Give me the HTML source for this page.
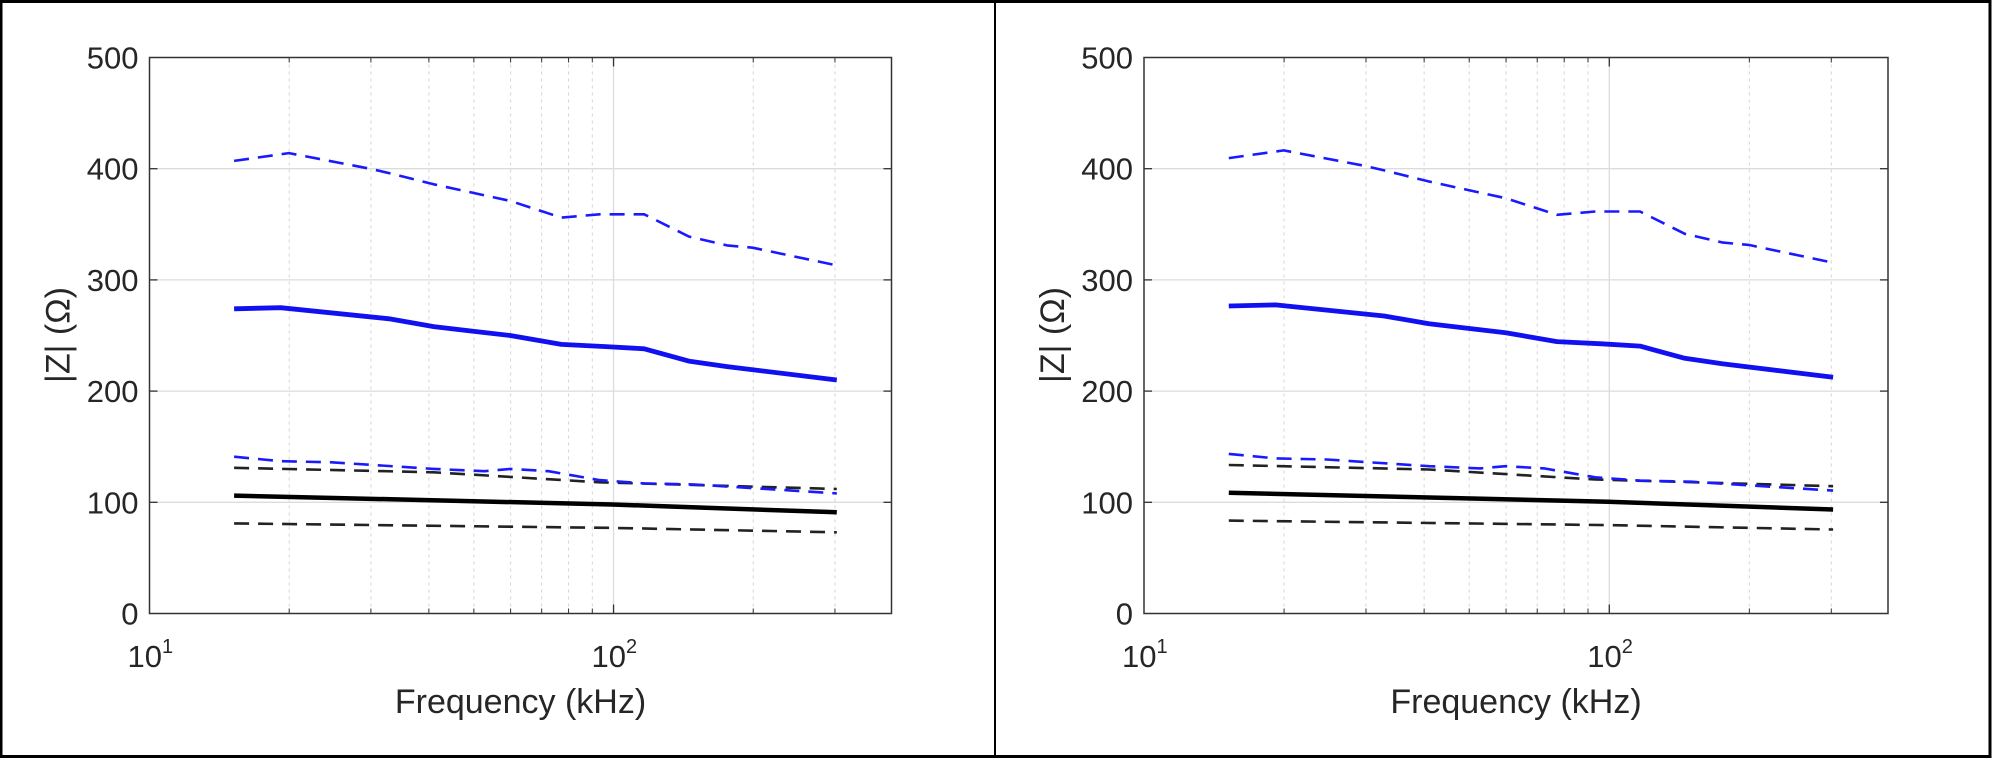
<!DOCTYPE html>
<html><head><meta charset="utf-8"><style>
html,body{margin:0;padding:0;background:#fff;}
svg{display:block;}
text{font-family:"Liberation Sans",Arial,sans-serif;fill:#262626;}
</style></head><body>
<svg id="s" width="1992" height="758" xmlns="http://www.w3.org/2000/svg"></svg>
<script>
const s=document.getElementById('s');
let h='<rect x="0" y="0" width="1992" height="758" fill="#fff"/>';
h+='<rect x="1" y="1.5" width="1989" height="755" fill="none" stroke="#000" stroke-width="3"/>';
h+='<line x1="995" y1="0" x2="995" y2="758" stroke="#000" stroke-width="2"/>';
const Z=1000/1568;
const series=[
 {c:'#1a1aff',w:2.6,d:'15 9',p:[[367,407],[453,414],[580,400],[610,396],[680,386],[800,371],[880,356],[940,359],[1010,359],[1080,339],[1140,331],[1180,329],[1312,313]]},
 {c:'#1010f0',w:4.8,d:'',p:[[367,274],[440,275],[610,265],[680,258],[740,254],[800,250],[880,242],[950,240],[1010,238],[1080,227],[1140,222],[1312,210]]},
 {c:'#222',w:2.6,d:'15 9',p:[[367,131],[680,127],[940,118],[1312,112]]},
 {c:'#1a1aff',w:2.6,d:'15 9',p:[[367,141],[440,137],[520,136],[680,130],[760,128],[800,130],[860,128],[940,120],[1010,117],[1090,116],[1312,108]]},
 {c:'#000',w:4.5,d:'',p:[[367,106],[960,98],[1312,91]]},
 {c:'#222',w:2.6,d:'15 9',p:[[367,81],[960,77],[1312,73]]}
];
function panel(L,R,dy){
 const T=57.5,B=613.5,dec=(R-L)/1.599;
 const X=f=>L+dec*(Math.log10(f)-1), Y=v=>B-(v/500)*(B-T);
 let g='';
 [20,30,40,50,60,70,80,90,200,300].forEach(f=>{const x=X(f);g+=`<line x1="${x}" y1="${T}" x2="${x}" y2="${B}" stroke="#d4d4d4" stroke-width="1" stroke-dasharray="3 4"/>`;
  g+=`<line x1="${x}" y1="${B}" x2="${x}" y2="${B-5}" stroke="#333" stroke-width="1"/><line x1="${x}" y1="${T}" x2="${x}" y2="${T+5}" stroke="#333" stroke-width="1"/>`;});
 const x100=X(100);
 g+=`<line x1="${x100}" y1="${T}" x2="${x100}" y2="${B}" stroke="#dcdcdc" stroke-width="1.3"/>`;
 g+=`<line x1="${x100}" y1="${B}" x2="${x100}" y2="${B-9}" stroke="#333" stroke-width="1.3"/><line x1="${x100}" y1="${T}" x2="${x100}" y2="${T+9}" stroke="#333" stroke-width="1.3"/>`;
 for(let v=100;v<=400;v+=100){const y=Y(v);g+=`<line x1="${L}" y1="${y}" x2="${R}" y2="${y}" stroke="#dcdcdc" stroke-width="1.3"/>`;
  g+=`<line x1="${L}" y1="${y}" x2="${L+8}" y2="${y}" stroke="#333" stroke-width="1.3"/><line x1="${R}" y1="${y}" x2="${R-8}" y2="${y}" stroke="#333" stroke-width="1.3"/>`;}
 for(let v=0;v<=500;v+=100){g+=`<text x="${L-11}" y="${Y(v)+11}" font-size="31" text-anchor="end">${v}</text>`;}
 g+=`<text x="${L-22}" y="667" font-size="31">10<tspan font-size="20" dy="-14">1</tspan></text>`;
 g+=`<text x="${x100-22}" y="667" font-size="31">10<tspan font-size="20" dy="-14">2</tspan></text>`;
 g+=`<text x="${(L+R)/2+0}" y="713" font-size="34" text-anchor="middle">Frequency (kHz)</text>`;
 g+=`<text transform="translate(${L-80},335) rotate(-90)" font-size="34" text-anchor="middle">|Z| (Ω)</text>`;
 series.forEach(sr=>{
  const pts=sr.p.map(([zx,v])=>{const xa=zx*Z;const f=Math.pow(10,1+(xa-149.5)/464);return X(f).toFixed(1)+','+Y(v+dy).toFixed(1);}).join(' ');
  g+=`<polyline points="${pts}" fill="none" stroke="${sr.c}" stroke-width="${sr.w}" ${sr.d?`stroke-dasharray="${sr.d}"`:''} stroke-linejoin="round"/>`;
 });
 g+=`<rect x="${L}" y="${T}" width="${R-L}" height="${B-T}" fill="none" stroke="#333" stroke-width="1.5"/>`;
 return g;
}
h+=panel(149.5,891.5,0);
h+=panel(1144,1888,2.5);
s.innerHTML=h;
</script>
</body></html>
